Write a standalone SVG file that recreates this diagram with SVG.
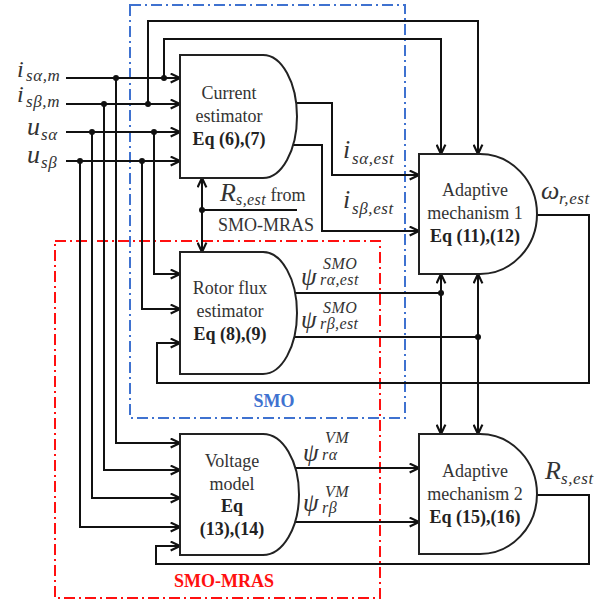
<svg xmlns="http://www.w3.org/2000/svg" width="606" height="605" viewBox="0 0 606 605">
<defs>
<marker id="ar" viewBox="0 0 10 10" refX="9.5" refY="5" markerWidth="11" markerHeight="11" markerUnits="userSpaceOnUse" orient="auto-start-reverse">
<path d="M1,1 L9.5,5 L1,9" fill="none" stroke="#111" stroke-width="2"/>
</marker>
</defs>
<style>
.w{fill:none;stroke:#111;stroke-width:2}
.a{marker-end:url(#ar)}
.blk{fill:#fff;stroke:#222;stroke-width:2}
.t{font-family:"Liberation Serif","Times New Roman",serif;font-size:18px;fill:#333;text-anchor:middle}
.b{font-weight:bold;fill:#222}
.m{font-family:"Liberation Serif","Times New Roman",serif;font-style:italic;fill:#333}
.big{font-size:26px}
.ib{font-size:24px}
.sub{font-size:17px;letter-spacing:0.6px}
.sm{font-size:16px;letter-spacing:0.4px}
.psi{font-size:25px}
.dot{fill:#111}
.bl{fill:none;stroke:#3f72d0;stroke-width:2;stroke-dasharray:11 4 2 4}
.rd{fill:none;stroke:#ff1010;stroke-width:2;stroke-dasharray:11 4 2 4}
</style>
<rect width="606" height="605" fill="#fff"/>

<g id="regions">
<rect class="bl" x="130" y="5" width="275" height="413"/>
<rect class="rd" x="55" y="241" width="325" height="357"/>
<text class="t b" x="274" y="407" style="fill:#3f72d0">SMO</text>
<text class="t b" x="224" y="587" style="fill:#ff1010">SMO-MRAS</text>
</g>

<g id="connectors">
<path class="w a" d="M66,78 H180"/>
<path class="w a" d="M66,104 H180"/>
<path class="w a" d="M66,132 H180"/>
<path class="w a" d="M66,161 H180"/>
<path class="w a" d="M116,78 V443 H180"/>
<path class="w a" d="M104,104 V470 H180"/>
<path class="w a" d="M92,132 V498 H180"/>
<path class="w a" d="M80,161 V527 H180"/>
<path class="w a" d="M154,132 V274 H180"/>
<path class="w a" d="M142,161 V309 H180"/>
<path class="w a" d="M164,78 V39 H441 V154"/>
<path class="w a" d="M148,104 V21 H478 V154"/>
<path class="w a" d="M296,103 H332 V175 H419"/>
<path class="w a" d="M293,145 H322 V231 H419"/>
<path class="w a" d="M202,210 V178"/>
<path class="w a" d="M202,210 V252"/>
<path class="w" d="M202,210 H297"/>
<path class="w" d="M295,293 H441"/>
<path class="w" d="M294,337 H478"/>
<path class="w a" d="M441,354 V274"/>
<path class="w a" d="M441,354 V434"/>
<path class="w a" d="M478,354 V274"/>
<path class="w a" d="M478,354 V434"/>
<path class="w a" d="M537,215 H589 V383 H157 V343 H180"/>
<path class="w a" d="M295,468 H419"/>
<path class="w a" d="M295,522 H419"/>
<path class="w a" d="M537,495 H589 V564 H156 V546 H180"/>
<circle class="dot" cx="116" cy="78" r="3"/>
<circle class="dot" cx="104" cy="104" r="3"/>
<circle class="dot" cx="92" cy="132" r="3"/>
<circle class="dot" cx="80" cy="161" r="3"/>
<circle class="dot" cx="154" cy="132" r="3"/>
<circle class="dot" cx="142" cy="161" r="3"/>
<circle class="dot" cx="164" cy="78" r="3"/>
<circle class="dot" cx="148" cy="104" r="3"/>
<circle class="dot" cx="202" cy="210" r="3"/>
<circle class="dot" cx="441" cy="293" r="3"/>
<circle class="dot" cx="478" cy="337" r="3"/>
</g>

<g id="labels">
<text class="m ib" x="17" y="77">i</text><text class="m sub" x="26" y="81">sα,m</text>
<text class="m ib" x="17" y="102">i</text><text class="m sub" x="26" y="107">sβ,m</text>
<text class="m big" x="27" y="135">u</text><text class="m sub" x="41" y="140">sα</text>
<text class="m big" x="27" y="163">u</text><text class="m sub" x="41" y="168">sβ</text>
<text class="m big" x="343" y="158">i</text><text class="m sub" x="352" y="164">sα,est</text>
<text class="m big" x="343" y="208">i</text><text class="m sub" x="352" y="214">sβ,est</text>
<text class="m big" x="220" y="201">R</text><text class="m sm" x="236" y="205">s,est</text>
<text class="t" x="288" y="201">from</text>
<text class="t" x="266" y="231">SMO-MRAS</text>
<text class="m psi" x="301" y="285">ψ</text><text class="m sm" x="323" y="269">SMO</text><text class="m sm" x="320" y="285">rα,est</text>
<text class="m psi" x="301" y="328">ψ</text><text class="m sm" x="323" y="313">SMO</text><text class="m sm" x="320" y="329">rβ,est</text>
<text class="m psi" x="303" y="461">ψ</text><text class="m sm" x="325" y="443">VM</text><text class="m sm" x="322" y="460">rα</text>
<text class="m psi" x="303" y="511">ψ</text><text class="m sm" x="325" y="497">VM</text><text class="m sm" x="322" y="513">rβ</text>
<text class="m big" x="541" y="199">ω</text><text class="m sub" x="559" y="204">r,est</text>
<text class="m big" x="545" y="479">R</text><text class="m sub" x="561" y="484">s,est</text>
</g>

<g id="current-estimator">
<path class="blk" d="M180,55 H263 A34,61.5 0 0 1 263,178 H180 Z"/>
<text class="t" x="229" y="99">Current</text>
<text class="t" x="229" y="122">estimator</text>
<text class="t b" x="229" y="145">Eq (6),(7)</text>
</g>

<g id="rotor-flux-estimator">
<path class="blk" d="M180,252 H263 A34,61 0 0 1 263,374 H180 Z"/>
<text class="t" x="230" y="294">Rotor flux</text>
<text class="t" x="230" y="317">estimator</text>
<text class="t b" x="230" y="340">Eq (8),(9)</text>
</g>

<g id="voltage-model">
<path class="blk" d="M180,434 H263 A36,60.5 0 0 1 263,555 H180 Z"/>
<text class="t" x="232" y="467">Voltage</text>
<text class="t" x="232" y="490">model</text>
<text class="t b" x="232" y="512">Eq</text>
<text class="t b" x="232" y="535">(13),(14)</text>
</g>

<g id="adaptive-mechanism-1">
<path class="blk" d="M419,154 H480 A57,60 0 0 1 480,274 H419 Z"/>
<text class="t" x="475" y="196">Adaptive</text>
<text class="t" x="475" y="219">mechanism 1</text>
<text class="t b" x="475" y="242">Eq (11),(12)</text>
</g>

<g id="adaptive-mechanism-2">
<path class="blk" d="M419,434 H480 A57,60 0 0 1 480,554 H419 Z"/>
<text class="t" x="475" y="477">Adaptive</text>
<text class="t" x="475" y="500">mechanism 2</text>
<text class="t b" x="475" y="523">Eq (15),(16)</text>
</g>
</svg>
